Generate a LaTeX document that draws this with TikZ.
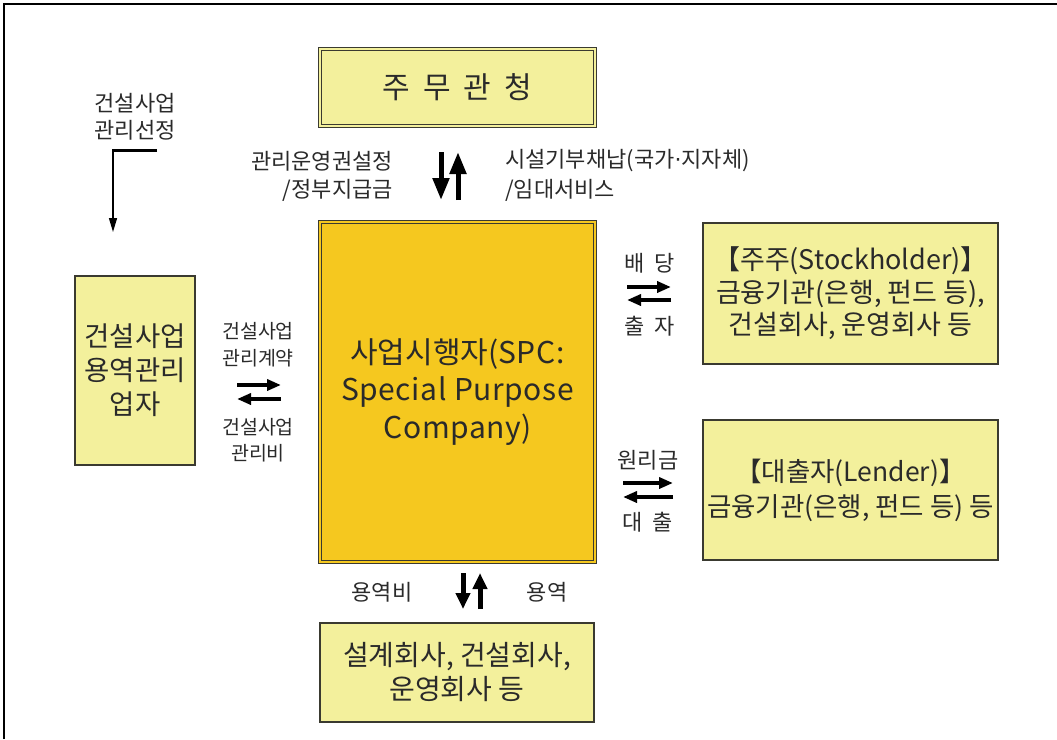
\documentclass[tikz,border=0pt]{standalone}
\usepackage{fontspec}
\setmainfont{Noto Sans CJK KR}
\newfontfamily\dvfont{DejaVu Sans}
\usetikzlibrary{arrows.meta}
\definecolor{lightyel}{HTML}{F3F09C}
\definecolor{spcyel}{HTML}{F5C81F}
\definecolor{txt}{HTML}{2A2A2A}
\definecolor{edge}{HTML}{3A3A30}
\newcommand{\lsp}[1]{{\addfontfeature{LetterSpace=2}#1}}
\tikzset{
  dblbox/.style={draw=edge, line width=0.9pt, double=#1, double distance=1.8pt, fill=#1, inner sep=0pt, align=center, text=txt},
  sglbox/.style={draw=edge, line width=1.2pt, fill=lightyel, inner sep=0pt, align=center, text=txt},
  lbl/.style={text=txt, font=\fontsize{22}{26}\selectfont, inner sep=0pt},
  slbl/.style={text=txt, font=\fontsize{19.5}{24}\selectfont, inner sep=0pt},
  varr/.style={line width=5pt, -{Triangle[length=22pt,width=16pt]}},
  sarr/.style={line width=5pt, -{Triangle[length=16pt,width=14pt]}},
  harr/.style={line width=4pt, -{Triangle[length=14pt,width=11pt]}},
}
\begin{document}
\begin{tikzpicture}[x=1pt,y=-1pt]
\useasboundingbox (0,0) rectangle (1057,739);
\draw[line width=1.5pt] (4,739) -- (4,4) -- (1057,4);

% boxes
\node[dblbox=lightyel, minimum width=275pt, minimum height=77pt,
  font=\fontsize{30}{36}\selectfont] (gov) at (457.5,87.5)
  {주\hspace{13pt}무\hspace{13pt}관\hspace{13pt}청};
\node[dblbox=spcyel, minimum width=275pt, minimum height=340pt,
  font=\fontsize{30}{37.5}\selectfont] (spc) at (457.5,392)
  {사업시행자(\lsp{SPC:}\\\lsp{Special Purpose}\\\lsp{Company})};
\node[sglbox, minimum width=120pt, minimum height=189pt,
  font=\fontsize{27.5}{34}\selectfont] (mgr) at (135,370.5)
  {건설사업\\용역관리\\업자};
\node[sglbox, minimum width=295pt, minimum height=141pt,
  font=\fontsize{27}{32.5}\selectfont] (stk) at (850.5,293.5)
  {【주주(Stockholder)】\\금융기관(은행, 펀드 등),\\건설회사, 운영회사 등};
\node[sglbox, minimum width=295pt, minimum height=140pt,
  font=\fontsize{26.5}{35}\selectfont] (lnd) at (850.5,490)
  {【대출자(Lender)】\\금융기관(은행, 펀드 등) 등};
\node[sglbox, minimum width=274pt, minimum height=99pt,
  font=\fontsize{28}{34}\selectfont] (con) at (457,672.5)
  {설계회사, 건설회사,\\운영회사 등};

% top-left selection arrow
\node[lbl] (sel1) at (135,103) {건설사업};
\node[lbl] (sel2) at (135,130) {관리선정};
\coordinate (s1) at (157,150);
\coordinate (s2) at (113,150);
\coordinate (s3) at (113,232);
\draw[line width=3pt] (s1) -- (111.5,150);
\draw[line width=1.4pt, -{Triangle[length=14pt,width=8pt]}] (s2) -- (s3);

% gov <-> spc
\coordinate (gd1) at (441,152); \coordinate (gd2) at (441,200);
\coordinate (gu1) at (458,200); \coordinate (gu2) at (458,152);
\draw[varr] (gd1) -- (gd2);
\draw[varr] (gu1) -- (gu2);
\node[lbl, anchor=east] (g1) at (393,161) {관리운영권설정};
\node[lbl, anchor=east] (g2) at (393,190) {/정부지급금};
\node[lbl, anchor=west] (g3) at (505,161) {시설기부채납(국가{\dvfont ·}지자체)};
\node[lbl, anchor=west] (g4) at (505,190) {/임대서비스};

% mgr <-> spc
\coordinate (m1) at (237,385); \coordinate (m2) at (281,385);
\coordinate (m3) at (281,399); \coordinate (m4) at (237,399);
\draw[harr] (m1) -- (m2);
\draw[harr] (m3) -- (m4);
\node[slbl] (ml1) at (258,331) {건설사업};
\node[slbl] (ml2) at (258,358) {관리계약};
\node[slbl] (ml3) at (258,427) {건설사업};
\node[slbl] (ml4) at (258,453) {관리비};

% spc <-> stockholder
\coordinate (k1) at (627,287); \coordinate (k2) at (671,287);
\coordinate (k3) at (671,300); \coordinate (k4) at (627,300);
\draw[harr] (k1) -- (k2);
\draw[harr] (k3) -- (k4);
\node[lbl] (kl1) at (650,263) {배\hspace{10pt}당};
\node[lbl] (kl2) at (650,326) {출\hspace{10pt}자};

% spc <-> lender
\coordinate (l1) at (623,483); \coordinate (l2) at (673,483);
\coordinate (l3) at (673,497); \coordinate (l4) at (623,497);
\draw[harr] (l1) -- (l2);
\draw[harr] (l3) -- (l4);
\node[lbl] (ll1) at (648,460) {원리금};
\node[lbl] (ll2) at (648,522) {대\hspace{10pt}출};

% spc <-> contractors
\coordinate (c1) at (463,573); \coordinate (c2) at (463,609);
\coordinate (c3) at (480,609); \coordinate (c4) at (480,573);
\draw[sarr] (c1) -- (c2);
\draw[sarr] (c3) -- (c4);
\node[lbl] (cl1) at (382,592) {용역비};
\node[lbl] (cl2) at (547,592) {용역};
\end{tikzpicture}
\end{document}
